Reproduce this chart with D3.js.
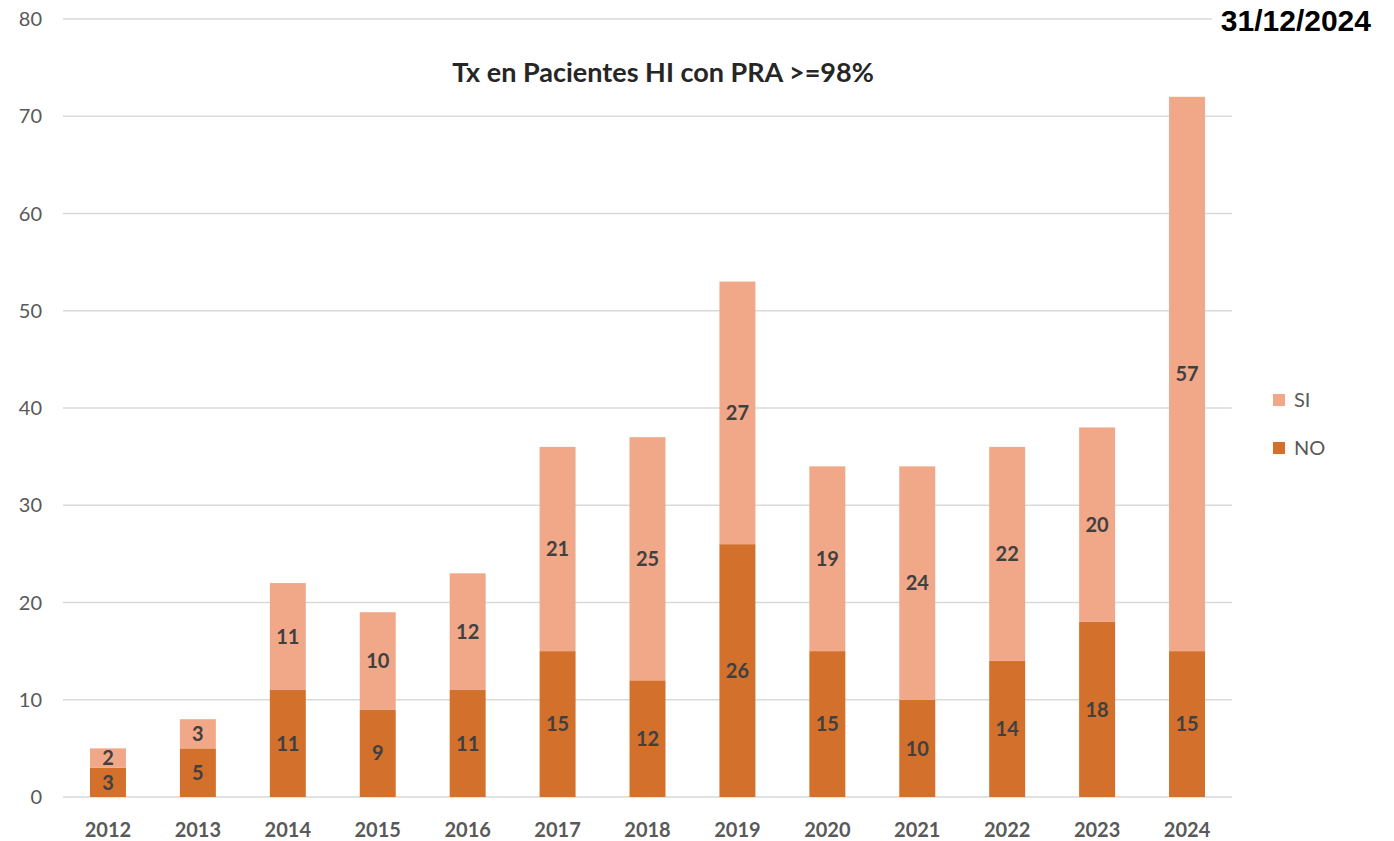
<!DOCTYPE html>
<html lang="es">
<head>
<meta charset="UTF-8">
<title>Tx en Pacientes HI con PRA >=98%</title>
<script src="https://d3js.org/d3.v7.min.js"></script>
<style>
  body { margin: 0; background: #fff; }
  text { font-family: Lato, "Open Sans", sans-serif; }
</style>
</head>
<body>
<svg width="1394" height="841"></svg>
<script>
// data
const years = ["2012","2013","2014","2015","2016","2017","2018","2019","2020","2021","2022","2023","2024"];
const noValues = [3, 5, 11, 9, 11, 15, 12, 26, 15, 10, 14, 18, 15];
const siValues = [2, 3, 11, 10, 12, 21, 25, 27, 19, 24, 22, 20, 57];
const yTicks = [0, 10, 20, 30, 40, 50, 60, 70, 80];
const seriesNames = ["SI", "NO"];

const colors = { SI: "#f0a889", NO: "#d2702c" };

let svg = d3.select("svg");
let plotLeft = 63, plotRight = 1232, plotTop = 19, plotBottom = 797;

let rows = years.map(function (y, i) { return { year: y, NO: noValues[i], SI: siValues[i] } });
let stack = d3.stack().keys(["NO", "SI"])(rows);

let x = d3.scaleBand().domain(years).range([plotLeft, plotRight]).paddingInner(0.6).paddingOuter(0.3);
let y = d3.scaleLinear().domain([0, 80]).range([plotBottom, plotTop]);

// gridlines
svg.append("g")
    .selectAll("line")
    .data(yTicks)
    .enter()
    .append("line")
    .attr("x1", plotLeft).attr("x2", plotRight)
    .attr("y1", d => y(d)).attr("y2", d => y(d))
    .attr("stroke", "#d9d9d9")
    .attr("stroke-width", 1.5);

// y tick labels
svg.append("g")
    .selectAll("text")
    .data(yTicks)
    .enter()
    .append("text")
    .attr("x", 42)
    .attr("y", d => y(d))
    .attr("dy", "0.35em")
    .attr("text-anchor", "end")
    .attr("fill", "#595959")
    .style("font-size", "20px")
    .text(d => d);

// bars
let layers = svg.append("g")
    .selectAll("g")
    .data(stack)
    .enter()
    .append("g")
    .attr("fill", d => colors[d.key]);

layers.selectAll("rect")
    .data(d => d)
    .enter()
    .append("rect")
    .attr("x", d => x(d.data.year))
    .attr("width", x.bandwidth())
    .attr("y", d => y(d[1]))
    .attr("height", d => y(d[0]) - y(d[1]));

// value labels
layers.selectAll("text")
    .data(d => d)
    .enter()
    .append("text")
    .attr("x", d => x(d.data.year) + x.bandwidth() / 2)
    .attr("y", d => (y(d[0]) + y(d[1])) / 2)
    .attr("dy", "0.36em")
    .attr("text-anchor", "middle")
    .attr("fill", "#404040")
    .style("font-size", "20px")
    .style("font-weight", "bold")
    .text(d => d[1] - d[0]);

// x labels
svg.append("g")
    .selectAll("text")
    .data(years)
    .enter()
    .append("text")
    .attr("x", d => x(d) + x.bandwidth() / 2)
    .attr("y", 830)
    .attr("dy", "0.35em")
    .attr("text-anchor", "middle")
    .attr("fill", "#595959")
    .style("font-size", "20px")
    .style("font-weight", "bold")
    .text(d => d);

// title
svg.append("text")
    .attr("x", 663)
    .attr("y", 73)
    .attr("dy", "0.35em")
    .attr("text-anchor", "middle")
    .attr("fill", "#262626")
    .style("font-size", "27px")
    .style("font-weight", "bold")
    .text("Tx en Pacientes HI con PRA >=98%");

// legend
let legend = svg.append("g")
    .selectAll("g")
    .data(seriesNames)
    .enter()
    .append("g")
    .attr("transform", (d, i) => `translate(1273,${400 + i * 48})`);
legend.append("rect")
    .attr("y", -6).attr("width", 12).attr("height", 12)
    .attr("fill", d => colors[d]);
legend.append("text")
    .attr("x", 21)
    .attr("dy", "0.35em")
    .attr("fill", "#595959")
    .style("font-size", "20px")
    .text(d => d);

// date stamp
svg.append("rect")
    .attr("x", 1212).attr("y", 2).attr("width", 182).attr("height", 36)
    .attr("fill", "#fff");
svg.append("text")
    .attr("x", 1371)
    .attr("y", 20)
    .attr("dy", "0.35em")
    .attr("text-anchor", "end")
    .attr("fill", "#000")
    .style("font-family", "'Liberation Sans', Arial, sans-serif")
    .style("font-size", "30px")
    .style("font-weight", "bold")
    .text("31/12/2024");
</script>
</body>
</html>
